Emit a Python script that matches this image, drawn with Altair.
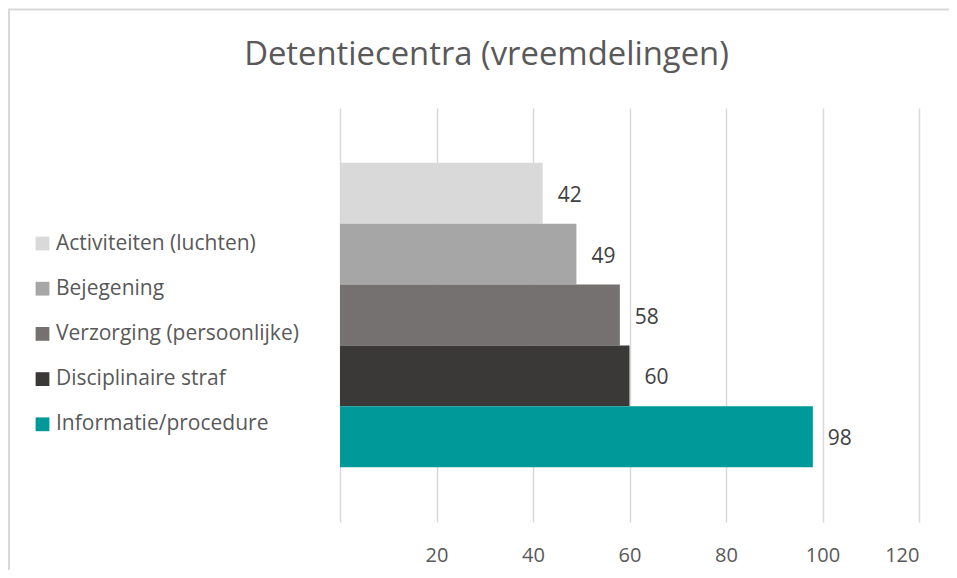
import altair as alt
import pandas as pd

categories = [
    "Activiteiten (luchten)",
    "Bejegening",
    "Verzorging (persoonlijke)",
    "Disciplinaire straf",
    "Informatie/procedure",
]
values = [42, 49, 58, 60, 98]
colors = ["#d9d9d9", "#a6a6a6", "#767171", "#3b3838", "#009999"]
tick_values = [0, 20, 40, 60, 80, 100, 120]
title_text = "Detentiecentra (vreemdelingen)"

FONT = "Open Sans"
W, H = 579, 414
PAD = {"left": 332, "top": 100, "right": 30, "bottom": 48}

df = pd.DataFrame({"categorie": categories, "aantal": values})

y_enc = alt.Y("categorie:N", sort=categories, axis=None,
              scale=alt.Scale(paddingInner=0, paddingOuter=0.9))
x_enc = alt.X("aantal:Q",
              scale=alt.Scale(domain=[0, 120], nice=False),
              axis=alt.Axis(values=tick_values, title=None, grid=True,
                            gridColor="#d9d9d9", gridWidth=1.5,
                            domain=False, ticks=False,
                            labelExpr="datum.value == 0 ? '' : datum.label",
                            labelFont=FONT, labelFontSize=20,
                            labelColor="#595959", labelPadding=23))

bars = alt.Chart(df).mark_bar().encode(
    x=x_enc,
    y=y_enc,
    color=alt.Color("categorie:N", sort=categories,
                    scale=alt.Scale(domain=categories, range=colors),
                    legend=alt.Legend(title=None, orient="none",
                                      legendX=-308, legendY=125,
                                      symbolType="square", symbolSize=190,
                                      symbolStrokeWidth=0,
                                      labelFont=FONT, labelFontSize=21,
                                      labelColor="#595959", labelOffset=3,
                                      rowPadding=23.2, padding=0,
                                      labelLimit=400)),
)

labels = alt.Chart(df).mark_text(
    align="left", baseline="middle", dx=15, dy=2.5,
    font=FONT, fontSize=21, color="#404040"
).encode(
    x="aantal:Q",
    y=alt.Y("categorie:N", sort=categories),
    text="aantal:Q",
)

border = alt.Chart(pd.DataFrame({"a": [0]})).mark_rect(
    fill="transparent", stroke="#d9d9d9", strokeWidth=2
).encode(
    x=alt.value(-331),
    x2=alt.value(W + 60),
    y=alt.value(-98.5),
    y2=alt.value(H + 80),
)

chart = alt.layer(border, bars, labels).properties(
    width=W, height=H,
    padding=PAD,
    autosize=alt.AutoSizeParams(type="none"),
    title=alt.TitleParams(title_text, font=FONT, fontSize=32.8,
                          fontWeight="normal", color="#595959",
                          anchor="middle", frame="group", dx=-143,
                          dy=133.5, baseline="alphabetic", offset=44),
).configure_view(strokeWidth=0)

chart.save("out.html", embed_options={"renderer": "svg", "actions": False})
